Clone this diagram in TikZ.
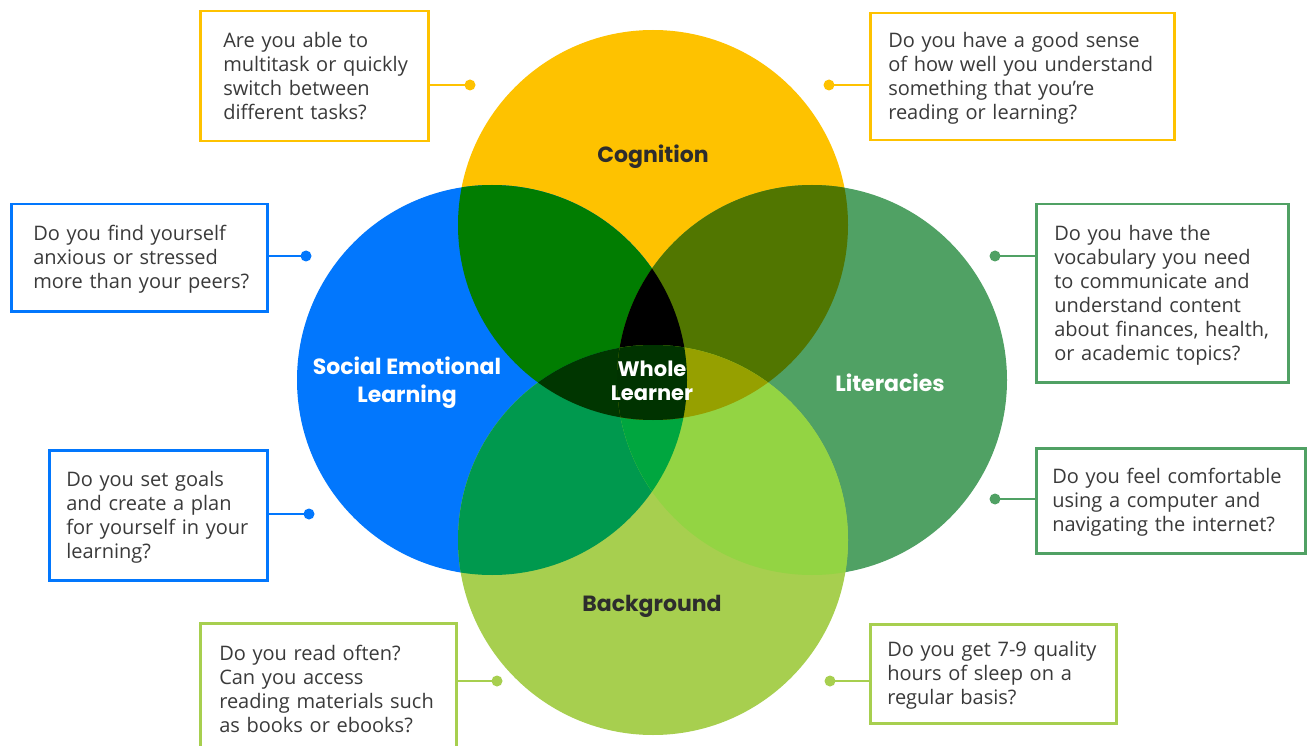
\documentclass[tikz,border=0pt]{standalone}
\usepackage{fontspec}
\setmainfont{Open Sans}
\newfontfamily\labelfont{Poppins}
\usepackage{xcolor}
\newcommand{\canvaswidth}{1307}
\newcommand{\canvasheight}{746}
\newcommand{\circr}{195pt}
\newcommand{\cogcircle}{(653,225) circle (\circr)}
\newcommand{\selcircle}{(492,380) circle (\circr)}
\newcommand{\litcircle}{(812,380) circle (\circr)}
\newcommand{\bgcircle}{(653,540) circle (\circr)}
% lines of a question, never rewrapped
\newcommand{\qlines}[1]{\begin{tabular}{@{}l@{}}#1\\[-4pt]\end{tabular}}
% single circles
\definecolor{cogcolor}{HTML}{FEC200}
\definecolor{selcolor}{HTML}{0277FD}
\definecolor{litcolor}{HTML}{50A164}
\definecolor{bgcolor}{HTML}{A7CF4F}
% overlaps
\definecolor{cogsel}{HTML}{017D01}
\definecolor{coglit}{HTML}{517600}
\definecolor{selbg}{HTML}{00994E}
\definecolor{litbg}{HTML}{93D443}
\definecolor{cogsellit}{HTML}{000000}
\definecolor{sellitbg}{HTML}{00A63F}
\definecolor{cogselbg}{HTML}{003600}
\definecolor{coglitbg}{HTML}{96A000}
\definecolor{wholecolor}{HTML}{003300}
% text
\definecolor{labeldark}{HTML}{2D2D2D}
\definecolor{bodycolor}{HTML}{3A3A3A}
\tikzset{
  circlabel/.style={align=center, inner sep=0pt,
    font=\labelfont\bfseries\fontsize{22}{28}\selectfont},
  qbox/.style={draw=#1, line width=2.5pt, fill=white, align=left,
    anchor=north west, inner ysep=0pt, text=bodycolor,
    font=\fontsize{20}{24}\selectfont},
  qline/.style={draw=#1, line width=2.5pt},
  qdot/.style={fill=#1}
}

\begin{document}
\begin{tikzpicture}[x=1pt, y=-1pt]
  % Page background
  \fill[white] (0,0) rectangle (\canvaswidth,\canvasheight);
  \useasboundingbox (0,0) rectangle (\canvaswidth,\canvasheight);
  \clip (0,0) rectangle (\canvaswidth,\canvasheight);

  % === CIRCLES ===
  \fill[cogcolor] \cogcircle;
  \fill[selcolor] \selcircle;
  \fill[litcolor] \litcircle;
  \fill[bgcolor] \bgcircle;

  % Two-way overlaps
  \begin{scope}\clip \cogcircle; \fill[cogsel] \selcircle; \end{scope}
  \begin{scope}\clip \cogcircle; \fill[coglit] \litcircle; \end{scope}
  \begin{scope}\clip \selcircle; \fill[selbg] \bgcircle; \end{scope}
  \begin{scope}\clip \litcircle; \fill[litbg] \bgcircle; \end{scope}

  % Three-way overlaps
  \begin{scope}\clip \cogcircle; \clip \selcircle; \fill[cogsellit] \litcircle; \end{scope}
  \begin{scope}\clip \selcircle; \clip \litcircle; \fill[sellitbg] \bgcircle; \end{scope}
  \begin{scope}\clip \cogcircle; \clip \selcircle; \fill[cogselbg] \bgcircle; \end{scope}
  \begin{scope}\clip \cogcircle; \clip \litcircle; \fill[coglitbg] \bgcircle; \end{scope}

  % Centre, all four
  \begin{scope}
    \clip \cogcircle; \clip \selcircle; \clip \litcircle;
    \fill[wholecolor] \bgcircle;
  \end{scope}

  % Circle titles
  \node[circlabel, text=labeldark] (coglabel) at (653,157) {Cognition};
  \node[circlabel, text=white] (sellabel) at (407,383) {Social Emotional\\Learning};
  \node[circlabel, text=white] (litlabel) at (890,383) {Literacies};
  \node[circlabel, text=labeldark] (bglabel) at (652,606) {Background};
  \node[circlabel, text=white, font=\labelfont\bfseries\fontsize{21}{24}\selectfont]
    (whole) at (652,381) {Whole\\Learner};

  % === QUESTION BOXES ===
  \node[qbox=cogcolor, inner xsep=23pt, text width=182pt, minimum height=130pt]
    (q1) at (199,10) {\qlines{Are you able to\\multitask or quickly\\switch between\\different tasks?}};
  \node[qbox=cogcolor, inner xsep=18pt, text width=268pt, minimum height=127pt]
    (q2) at (869,12) {\qlines{Do you have a good sense\\of how well you understand\\something that you’re\\reading or learning?}};
  \node[qbox=selcolor, inner xsep=22pt, text width=212pt, minimum height=107pt]
    (q3) at (10,203) {\qlines{Do you find yourself\\anxious or stressed\\more than your peers?}};
  \node[qbox=selcolor, inner xsep=17pt, text width=184pt, minimum height=130pt]
    (q4) at (48,449) {\qlines{Do you set goals\\and create a plan\\for yourself in your\\learning?}};
  \node[qbox=litcolor, inner xsep=18pt, text width=216pt, minimum height=178pt]
    (q5) at (1035,203) {\qlines{Do you have the\\vocabulary you need\\to communicate and\\understand content\\about finances, health,\\or academic topics?}};
  \node[qbox=litcolor, inner xsep=16pt, text width=237pt, minimum height=105pt]
    (q6) at (1035,447) {\qlines{Do you feel comfortable\\using a computer and\\navigating the internet?}};
  \node[qbox=bgcolor, inner xsep=19pt, text width=218pt, minimum height=132pt]
    (q7) at (199,622) {\qlines{Do you read often?\\Can you access\\reading materials such\\as books or ebooks?}};
  \node[qbox=bgcolor, inner xsep=17pt, text width=212pt, minimum height=99pt]
    (q8) at (869,623) {\qlines{Do you get 7-9 quality\\hours of sleep on a\\regular basis?}};

  % Connector dots
  \coordinate (d1) at (470,85);
  \coordinate (d2) at (829,85);
  \coordinate (d3) at (306,256);
  \coordinate (d4) at (309,514);
  \coordinate (d5) at (995,256);
  \coordinate (d6) at (995,499);
  \coordinate (d7) at (497,681);
  \coordinate (d8) at (830,681);

  \draw[qline=cogcolor] (d1) -- (d1 -| q1.east);
  \draw[qline=cogcolor] (d2) -- (d2 -| q2.west);
  \draw[qline=selcolor] (d3) -- (d3 -| q3.east);
  \draw[qline=selcolor] (d4) -- (d4 -| q4.east);
  \draw[qline=litcolor] (d5) -- (d5 -| q5.west);
  \draw[qline=litcolor] (d6) -- (d6 -| q6.west);
  \draw[qline=bgcolor] (d7) -- (d7 -| q7.east);
  \draw[qline=bgcolor] (d8) -- (d8 -| q8.west);

  \fill[qdot=cogcolor] (d1) circle (5.5pt);
  \fill[qdot=cogcolor] (d2) circle (5.5pt);
  \fill[qdot=selcolor] (d3) circle (5.5pt);
  \fill[qdot=selcolor] (d4) circle (5.5pt);
  \fill[qdot=litcolor] (d5) circle (5.5pt);
  \fill[qdot=litcolor] (d6) circle (5.5pt);
  \fill[qdot=bgcolor] (d7) circle (5.5pt);
  \fill[qdot=bgcolor] (d8) circle (5.5pt);
\end{tikzpicture}
\end{document}
